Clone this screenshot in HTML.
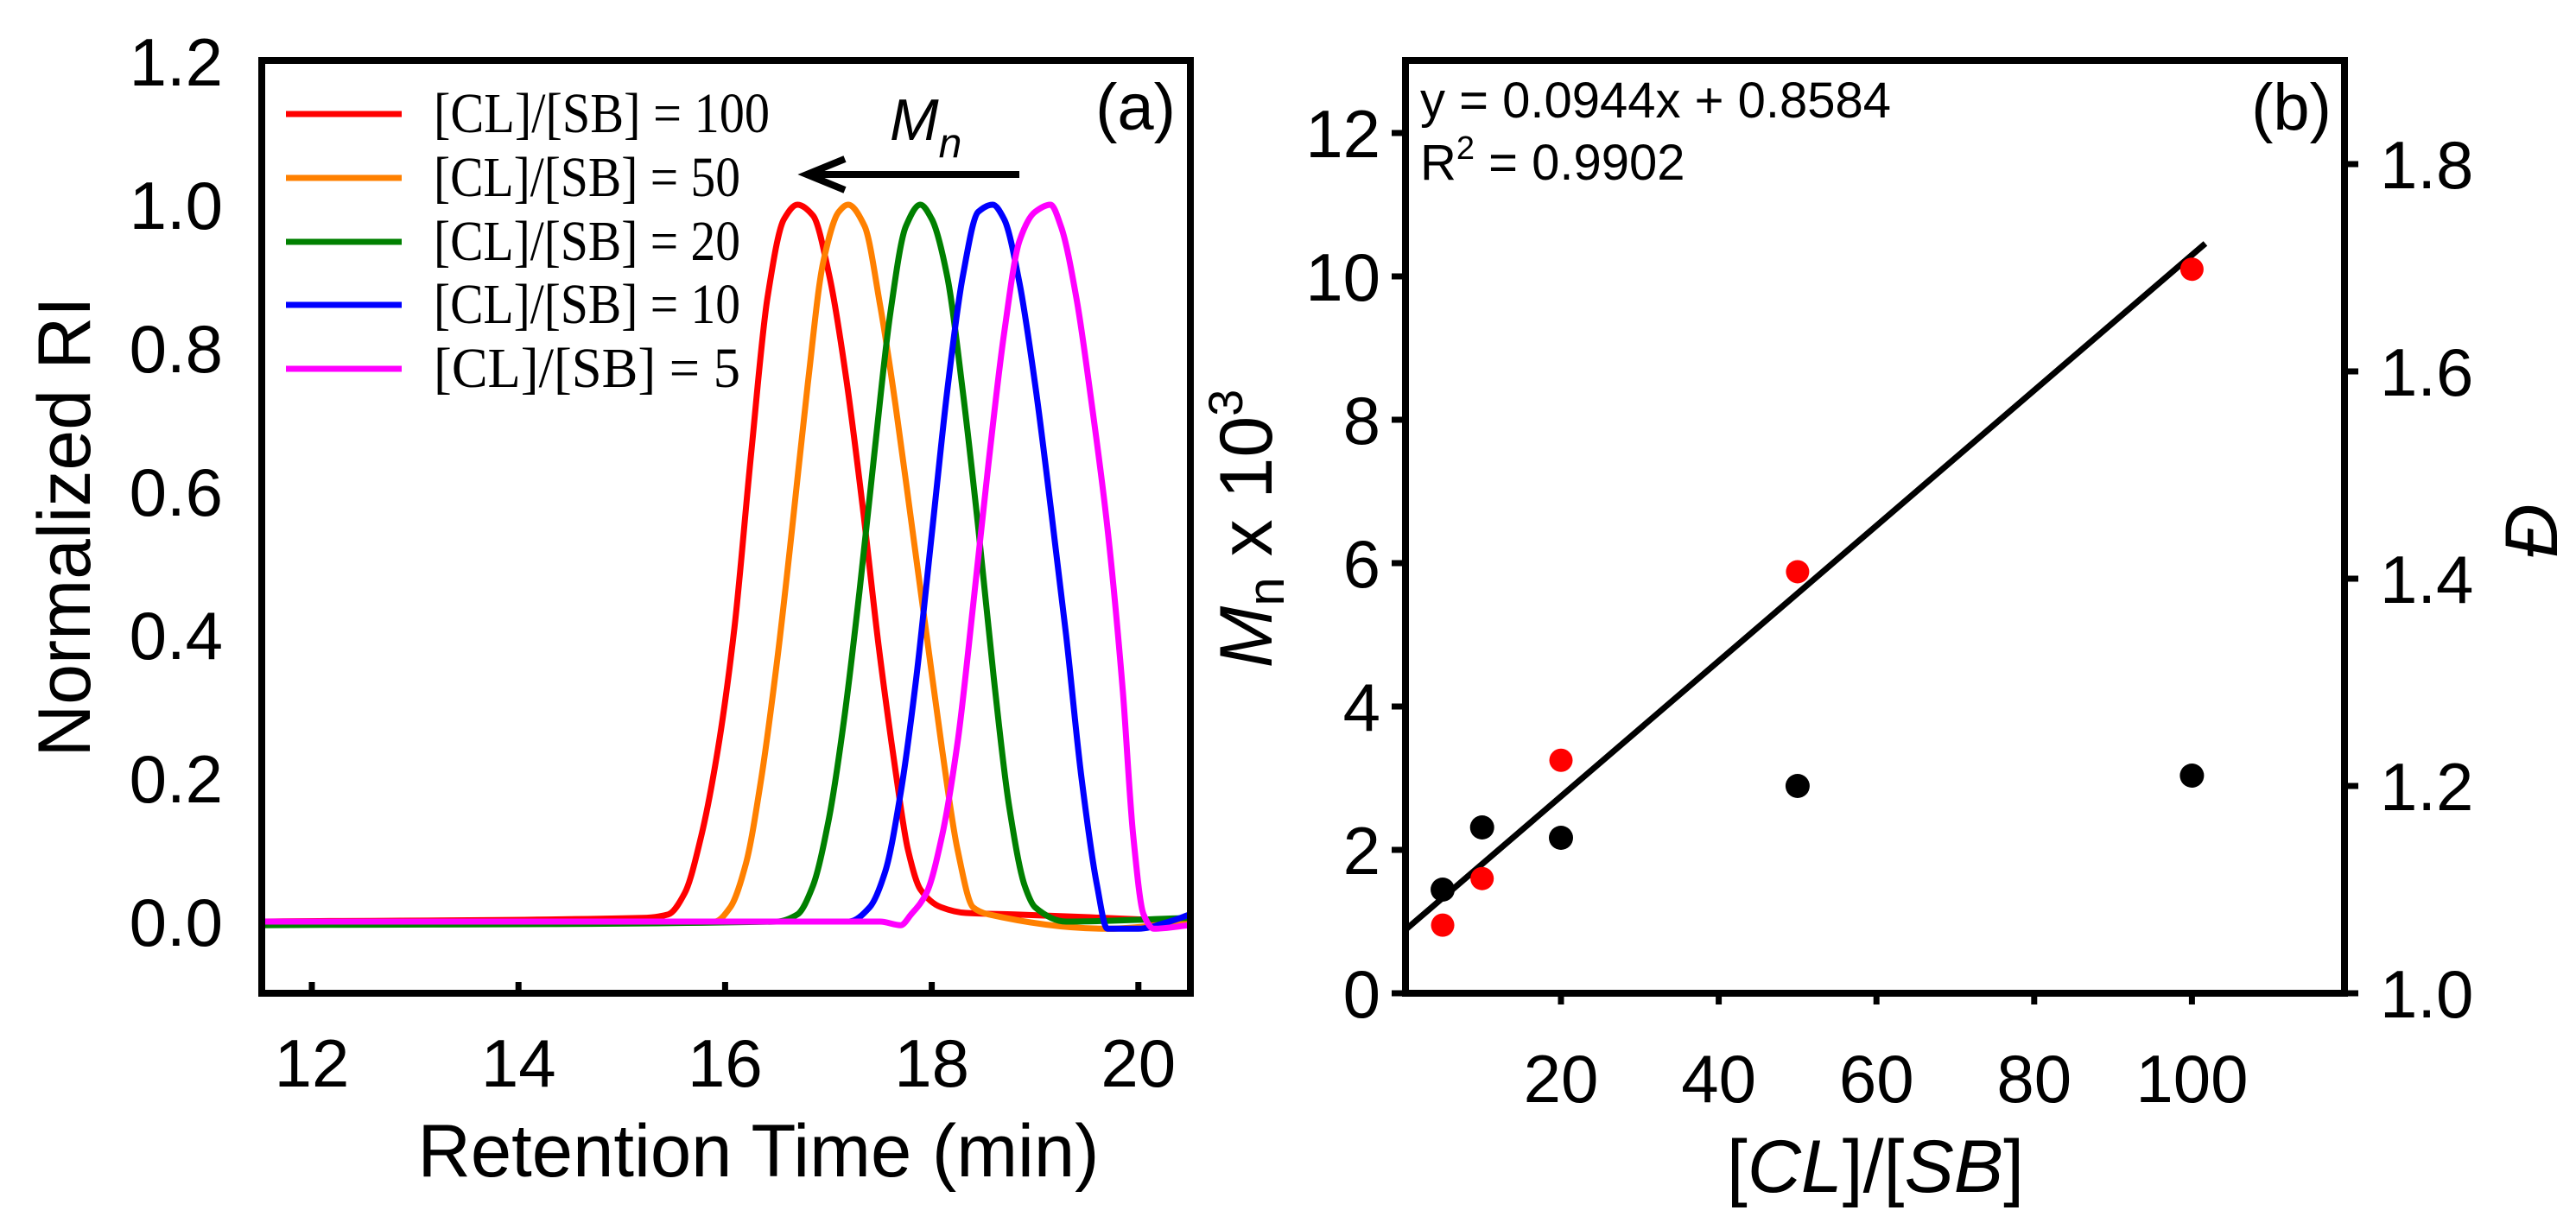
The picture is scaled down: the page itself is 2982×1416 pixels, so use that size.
<!DOCTYPE html>
<html><head><meta charset="utf-8"><style>
html,body{margin:0;padding:0;background:#fff;}
svg{display:block;}
text{font-family:"Liberation Sans",Arial,sans-serif;fill:#000;}
.serif{font-family:"Liberation Serif","Times New Roman",serif;}
</style></head><body>
<svg id="fig" width="2982" height="1416" viewBox="0 0 2982 1416" xmlns="http://www.w3.org/2000/svg">
<g id="pa"></g>
<g id="pb"></g>
</svg>
<script>
// ---- Panel (a) data ----
const aSeriesNames = ["[CL]/[SB] = 100","[CL]/[SB] = 50","[CL]/[SB] = 20","[CL]/[SB] = 10","[CL]/[SB] = 5"];
const aColors = ["#ff0000","#ff8000","#008000","#0000ff","#ff00ff"];
const redT = [11.5,15.2,15.45,15.61,15.77,15.93,16.09,16.25,16.41,16.57,16.70,16.85,17.01,17.17,17.33,17.49,17.65,17.77,17.89,18.09,18.33,18.8,20.5];
const redV = [0,0.005,0.01,0.04,0.12,0.24,0.41,0.65,0.87,0.98,1.0,0.985,0.90,0.76,0.58,0.38,0.21,0.10,0.045,0.02,0.012,0.01,0.0];
const orangeT = [11.5,15.9,16.05,16.2,16.35,16.5,16.65,16.8,16.95,17.1,17.19,17.35,17.5,17.65,17.8,17.95,18.1,18.25,18.4,18.55,19.7,20.5];
const orangeV = [0,0.0,0.02,0.08,0.2,0.36,0.55,0.75,0.92,0.99,1.0,0.97,0.86,0.72,0.56,0.40,0.24,0.10,0.02,0.01,-0.01,0.0];
const greenT = [11.5,16.5,16.7,16.85,17.0,17.15,17.3,17.45,17.6,17.75,17.89,18.0,18.15,18.3,18.45,18.6,18.75,18.9,19.0,19.3,20.5];
const greenV = [-0.005,0,0.01,0.05,0.14,0.28,0.46,0.66,0.85,0.97,1.0,0.98,0.90,0.74,0.55,0.34,0.16,0.05,0.02,0.0,0.005];
const blueT = [11.5,17.2,17.4,17.55,17.7,17.85,18.0,18.15,18.3,18.45,18.59,18.7,18.85,19.0,19.15,19.3,19.45,19.6,19.7,20.0,20.3,20.5];
const blueV = [0,0,0.02,0.07,0.18,0.34,0.54,0.74,0.9,0.99,1.0,0.98,0.89,0.75,0.58,0.40,0.2,0.05,-0.01,-0.01,0.0,0.01];
const magentaT = [11.5,17.5,17.7,17.8,17.95,18.1,18.25,18.4,18.55,18.7,18.85,19.0,19.15,19.25,19.4,19.55,19.7,19.85,19.95,20.05,20.15,20.5];
const magentaV = [0,0,-0.005,0.01,0.04,0.12,0.25,0.44,0.64,0.82,0.95,0.99,1.0,0.97,0.87,0.72,0.55,0.32,0.12,0.01,-0.01,-0.005];
const aXTicks = [12,14,16,18,20];
const aYTicks = ["0.0","0.2","0.4","0.6","0.8","1.0","1.2"];

// ---- Panel (b) data ----
const bX = [5,10,20,50,100];
const bMn = [0.95,1.6,3.25,5.88,10.1];
const bD = [1.10,1.16,1.15,1.20,1.21];
const bSlope = 0.0944, bIntercept = 0.8584;
const bFitRange = [0.3,101.7];
const bXTicks = [20,40,60,80,100];
const bYTicks = [0,2,4,6,8,10,12];
const bDTicks = ["1.0","1.2","1.4","1.6","1.8"];

const NS = "http://www.w3.org/2000/svg";
function mk(parent, tag, attrs, txt){
  const e = document.createElementNS(NS, tag);
  for (const k in attrs) e.setAttribute(k, attrs[k]);
  if (txt !== undefined) e.textContent = txt;
  parent.appendChild(e);
  return e;
}
// monotone cubic (no overshoot) in screen coords
function smoothPath(pts){
  const n = pts.length;
  const s = [];
  for (let i=0;i<n-1;i++) s.push((pts[i+1][1]-pts[i][1])/(pts[i+1][0]-pts[i][0]));
  const m = [];
  for (let i=0;i<n;i++){
    if (i===0) m.push(s[0]);
    else if (i===n-1) m.push(s[n-2]);
    else if (s[i-1]*s[i] <= 0) m.push(0);
    else {
      const h0=pts[i][0]-pts[i-1][0], h1=pts[i+1][0]-pts[i][0];
      const w1=2*h1+h0, w2=h1+2*h0;
      m.push((w1+w2)/(w1/s[i-1]+w2/s[i]));
    }
  }
  let d = 'M'+pts[0][0].toFixed(1)+','+pts[0][1].toFixed(1);
  for (let i=0;i<n-1;i++){
    const h = (pts[i+1][0]-pts[i][0])/3;
    d += ' C'+(pts[i][0]+h).toFixed(1)+','+(pts[i][1]+m[i]*h).toFixed(1)+' '+
         (pts[i+1][0]-h).toFixed(1)+','+(pts[i+1][1]-m[i+1]*h).toFixed(1)+' '+
         pts[i+1][0].toFixed(1)+','+pts[i+1][1].toFixed(1);
  }
  return d;
}

// ===== Panel a =====
const pa = document.getElementById('pa');
const aL=303, aR=1378, aT=70, aB=1150;
const ax = t => 361 + (t-12)*119.6;
const ay = v => 1067 - v*830;

const series = [[redT,redV],[orangeT,orangeV],[greenT,greenV],[blueT,blueV],[magentaT,magentaV]];
series.forEach((s,i)=>{
  const pts = s[0].map((t,j)=>[ax(t), ay(s[1][j])]);
  const p = mk(pa,'path',{d:smoothPath(pts),fill:'none',stroke:aColors[i],'stroke-width':7,'stroke-linejoin':'round'});
  
  
});
let fa = mk(pa,'rect',{x:aL,y:aT,width:aR-aL,height:aB-aT,fill:'none',stroke:'#000','stroke-width':8});


aXTicks.forEach(t=>{
  const l = mk(pa,'line',{x1:ax(t),x2:ax(t),y1:aB,y2:aB-13,stroke:'#000','stroke-width':7});
  
  
  const tx = mk(pa,'text',{x:ax(t),y:1258,'font-size':78,'text-anchor':'middle'},String(t));
  
  
});
aYTicks.forEach(s=>{
  const tx = mk(pa,'text',{x:258,y:ay(parseFloat(s))+28,'font-size':78,'text-anchor':'end'},s);
  
  
});
let t1 = mk(pa,'text',{x:878,y:1362,'font-size':86,'text-anchor':'middle',textLength:789,lengthAdjust:'spacingAndGlyphs'},'Retention Time (min)');


let t2 = mk(pa,'text',{x:0,y:0,'font-size':86,'text-anchor':'middle',transform:'translate(104,610) rotate(-90)',textLength:533,lengthAdjust:'spacingAndGlyphs'},'Normalized RI');


const legY=[132,206,280,353,427];
aSeriesNames.forEach((n,i)=>{
  const g = mk(pa,'g',{});
  
  
  mk(g,'line',{x1:331,x2:465,y1:legY[i],y2:legY[i],stroke:aColors[i],'stroke-width':7});
  mk(g,'text',{x:502,y:legY[i]+21,'font-size':66,class:'serif',textLength:n.length>14?389:355,lengthAdjust:'spacingAndGlyphs'},n);
});
let lab = mk(pa,'text',{x:1361,y:150,'font-size':76,'text-anchor':'end'},'(a)');


let mn = mk(pa,'text',{x:1030,y:162,'font-size':68,'font-style':'italic'});


mn.innerHTML='M<tspan font-size="48" dy="20">n</tspan>';
let ar = mk(pa,'g',{});


mk(ar,'line',{x1:1180,x2:936,y1:202,y2:202,stroke:'#000','stroke-width':8});
mk(ar,'path',{d:'M978,184 L934,202 L978,220',fill:'none',stroke:'#000','stroke-width':8});

// ===== Panel b =====
const pb = document.getElementById('pb');
const bL=1627, bR=2714, bT=70, bB=1150;
const bx = v => 1807 + (v-20)*9.13;
const by = v => bB - v*83;
const byD = d => bB - (d-1)*1200;
let fl = mk(pb,'line',{x1:bx(bFitRange[0]),y1:by(bSlope*bFitRange[0]+bIntercept),x2:bx(bFitRange[1]),y2:by(bSlope*bFitRange[1]+bIntercept),stroke:'#000','stroke-width':7});


bX.forEach((x,i)=>{
  const c = mk(pb,'circle',{cx:bx(x),cy:by(bMn[i]),r:13.5,fill:'#ff0000'});
  
  
  const c2 = mk(pb,'circle',{cx:bx(x),cy:byD(bD[i]),r:14,fill:'#000'});
  
  
});
let fb = mk(pb,'rect',{x:bL,y:bT,width:bR-bL,height:bB-bT,fill:'none',stroke:'#000','stroke-width':8});


bXTicks.forEach(t=>{
  const l = mk(pb,'line',{x1:bx(t),x2:bx(t),y1:bB,y2:bB+13,stroke:'#000','stroke-width':7});
  
  
  const tx = mk(pb,'text',{x:bx(t),y:1276,'font-size':78,'text-anchor':'middle'},String(t));
  
  
});
bYTicks.forEach(t=>{
  const l = mk(pb,'line',{x1:bL,x2:bL-16,y1:by(t),y2:by(t),stroke:'#000','stroke-width':7});
  
  
  const tx = mk(pb,'text',{x:1598,y:by(t)+28,'font-size':78,'text-anchor':'end'},String(t));
  
  
});
bDTicks.forEach(s=>{
  const v = parseFloat(s);
  const l = mk(pb,'line',{x1:bR,x2:bR+16,y1:byD(v),y2:byD(v),stroke:'#000','stroke-width':7});
  
  
  const tx = mk(pb,'text',{x:2755,y:byD(v)+28,'font-size':78},s);
  
  
});
let xt = mk(pb,'text',{x:2171,y:1380,'font-size':86,'text-anchor':'middle'});


xt.innerHTML='[<tspan font-style="italic">CL</tspan>]/[<tspan font-style="italic">SB</tspan>]';
let yt = mk(pb,'text',{x:0,y:0,'font-size':86,'text-anchor':'middle',transform:'translate(1472,612) rotate(-90)'});


yt.innerHTML='<tspan font-style="italic">M</tspan><tspan font-size="60" dy="14">n</tspan><tspan dy="-14"> x 10</tspan><tspan font-size="56" dy="-34">3</tspan>';
let dt = mk(pb,'text',{x:0,y:0,'font-size':86,'text-anchor':'middle','font-style':'italic',transform:'translate(2960,615) rotate(-90)'},'Đ');


let eq = mk(pb,'text',{x:1644,y:136,'font-size':58},'y = 0.0944x + 0.8584');


let r2 = mk(pb,'text',{x:1644,y:208,'font-size':58});


r2.innerHTML='R<tspan font-size="38" dy="-24">2</tspan><tspan dy="24"> = 0.9902</tspan>';
let lb = mk(pb,'text',{x:2699,y:150,'font-size':76,'text-anchor':'end'},'(b)');


</script>
</body></html>
